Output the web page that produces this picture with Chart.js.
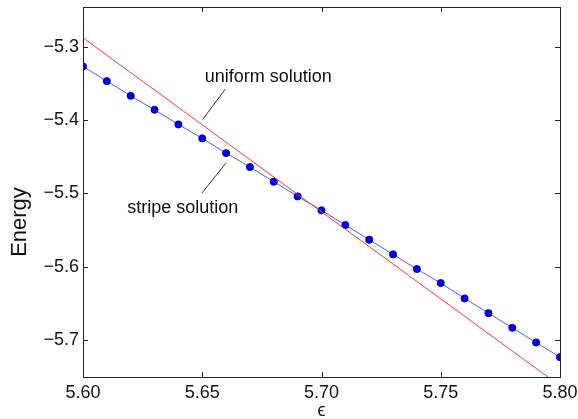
<!DOCTYPE html>
<html>
<head>
<meta charset="utf-8">
<script src="https://cdn.jsdelivr.net/npm/chart.js@4.4.1/dist/chart.umd.min.js"></script>
<style>
  html, body { margin: 0; padding: 0; background: #fff; }
  #wrap { width: 578px; height: 419px; }
</style>
</head>
<body>
<div id="wrap"><canvas id="energyChart" width="578" height="419"></canvas></div>
<script>
// epsilon values for the stripe solution
const epsilon = [5.60, 5.61, 5.62, 5.63, 5.64, 5.65, 5.66, 5.67, 5.68, 5.69, 5.70,
                 5.71, 5.72, 5.73, 5.74, 5.75, 5.76, 5.77, 5.78, 5.79, 5.80];
const stripeEnergy = [-5.327, -5.347, -5.367, -5.386, -5.406, -5.425, -5.445, -5.464, -5.484, -5.504, -5.523,
                      -5.543, -5.563, -5.583, -5.603, -5.622, -5.643, -5.663, -5.683, -5.703, -5.723];
// uniform solution is a straight line, end points only
const uniformEps = [5.60, 5.80];
const uniformEnergy = [-5.288, -5.762];

const xTicks = [5.60, 5.65, 5.70, 5.75, 5.80];
const yTicks = [-5.3, -5.4, -5.5, -5.6, -5.7];

const FONT = '"Liberation Sans", Arial, Helvetica, sans-serif';

// text labels with leader lines, in data coordinates
const notes = [
  { text: 'uniform solution', x: 5.6777, y: -5.341, from: [5.6596, -5.3582], to: [5.6502, -5.3991] },
  { text: 'stripe solution',  x: 5.6418, y: -5.5202, from: [5.6600, -5.4584], to: [5.6499, -5.4993] }
];

// keep the plot box fixed, no extra room for overhanging tick labels
function noOverhang(s) {
  s.paddingTop = 0; s.paddingBottom = 0; s.paddingLeft = 0; s.paddingRight = 0;
}

const framePlugin = {
  id: 'frame',
  afterDatasetsDraw(chart) {
    const { ctx, chartArea: a, scales: { x, y } } = chart;
    ctx.save();
    ctx.strokeStyle = '#222';
    ctx.lineWidth = 1;
    ctx.strokeRect(Math.round(a.left) + 0.5, Math.round(a.top) + 0.5,
                   Math.round(a.right - a.left), Math.round(a.bottom - a.top));
    // inward ticks on all four sides
    ctx.beginPath();
    x.ticks.forEach(t => {
      const px = Math.round(x.getPixelForValue(t.value)) + 0.5;
      ctx.moveTo(px, a.bottom); ctx.lineTo(px, a.bottom - 5);
      ctx.moveTo(px, a.top); ctx.lineTo(px, a.top + 5);
    });
    y.ticks.forEach(t => {
      const py = Math.round(y.getPixelForValue(t.value)) + 0.5;
      ctx.moveTo(a.left, py); ctx.lineTo(a.left + 5, py);
      ctx.moveTo(a.right, py); ctx.lineTo(a.right - 5, py);
    });
    ctx.stroke();

    // annotations
    ctx.strokeStyle = '#333';
    ctx.fillStyle = '#111';
    ctx.font = '18px ' + FONT;
    ctx.textAlign = 'center';
    ctx.textBaseline = 'middle';
    notes.forEach(n => {
      ctx.beginPath();
      ctx.moveTo(x.getPixelForValue(n.from[0]), y.getPixelForValue(n.from[1]));
      ctx.lineTo(x.getPixelForValue(n.to[0]), y.getPixelForValue(n.to[1]));
      ctx.stroke();
      ctx.fillText(n.text, x.getPixelForValue(n.x), y.getPixelForValue(n.y));
    });

    // axis titles
    ctx.font = '22px ' + FONT;
    ctx.save();
    ctx.translate(20, 222);
    ctx.rotate(-Math.PI / 2);
    ctx.fillText('Energy', 0, 0);
    ctx.restore();
    ctx.font = '18px ' + FONT;
    ctx.fillText('\u03f5', (a.left + a.right) / 2, 411);
    ctx.restore();
  }
};

new Chart(document.getElementById('energyChart'), {
  type: 'scatter',
  data: {
    datasets: [
      {
        label: 'uniform solution',
        data: uniformEps.map((e, i) => ({ x: e, y: uniformEnergy[i] })),
        showLine: true,
        borderColor: '#ff3333',
        borderWidth: 1,
        pointRadius: 0
      },
      {
        label: 'stripe solution',
        data: epsilon.map((e, i) => ({ x: e, y: stripeEnergy[i] })),
        showLine: true,
        borderColor: '#4a5cff',
        borderWidth: 1,
        pointRadius: 3.6,
        pointBackgroundColor: '#0000ee',
        pointBorderColor: '#00006a',
        pointBorderWidth: 0.8
      }
    ]
  },
  options: {
    responsive: false,
    animation: false,
    devicePixelRatio: 1,
    layout: { padding: { top: 7, right: 18, left: 0, bottom: 0 } },
    plugins: { legend: { display: false }, tooltip: { enabled: false } },
    scales: {
      x: {
        type: 'linear',
        min: 5.60,
        max: 5.80,
        afterFit: s => { s.height = 42; noOverhang(s); },
        afterBuildTicks: s => { s.ticks = xTicks.map(v => ({ value: v })); },
        grid: { display: false, drawTicks: false },
        border: { display: false },
        ticks: {
          padding: 5,
          color: '#111',
          font: { family: FONT, size: 18 },
          callback: v => v.toFixed(2)
        }
      },
      y: {
        type: 'linear',
        min: -5.75,
        max: -5.246,
        afterFit: s => { s.width = 83; noOverhang(s); },
        afterBuildTicks: s => { s.ticks = yTicks.map(v => ({ value: v })); },
        grid: { display: false, drawTicks: false },
        border: { display: false },
        ticks: {
          padding: 4,
          color: '#111',
          font: { family: FONT, size: 18 },
          callback: v => '\u2212' + Math.abs(v).toFixed(1)
        }
      }
    }
  },
  plugins: [framePlugin]
});
</script>
</body>
</html>
